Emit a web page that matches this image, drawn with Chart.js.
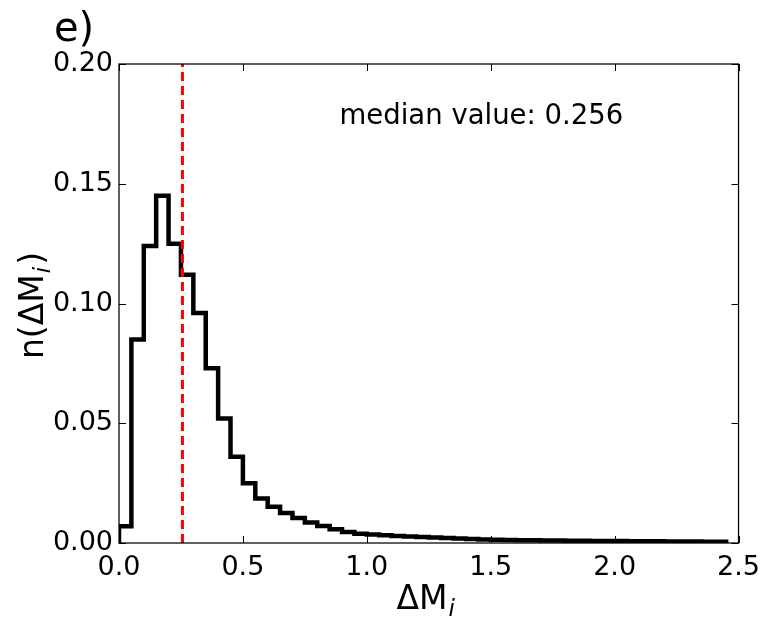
<!DOCTYPE html>
<html>
<head>
<meta charset="utf-8">
<script src="https://cdn.jsdelivr.net/npm/chart.js@4"></script>
<style>
  body { margin: 0; background: #fff; }
  #wrap { width: 769px; height: 632px; }
</style>
</head>
<body>
<div id="wrap"><canvas id="histChart"></canvas></div>
<script>
// bin left edges (width 0.05) and normalised counts
const binLefts = [0.00, 0.05, 0.10, 0.15, 0.20, 0.25, 0.30, 0.35, 0.40, 0.45,
                  0.50, 0.55, 0.60, 0.65, 0.70, 0.75, 0.80, 0.85, 0.90, 0.95,
                  1.00, 1.05, 1.10, 1.15, 1.20, 1.25, 1.30, 1.35, 1.40, 1.45,
                  1.50, 1.55, 1.60, 1.65, 1.70, 1.75, 1.80, 1.85, 1.90, 1.95,
                  2.00, 2.05, 2.10, 2.15, 2.20, 2.25, 2.30, 2.35, 2.40];
const binEnd = 2.45;
const counts = [0.007, 0.085, 0.124, 0.145, 0.125, 0.112, 0.096, 0.073, 0.052, 0.036,
                0.025, 0.0186, 0.0151, 0.0125, 0.0104, 0.0086, 0.0071, 0.0057, 0.0046, 0.0039,
                0.0035, 0.0032, 0.0029, 0.0027, 0.0025, 0.0023, 0.0021, 0.0019, 0.0017, 0.0015,
                0.0014, 0.0013, 0.0012, 0.0011, 0.0010, 0.0010, 0.0009, 0.0009, 0.0008, 0.0008,
                0.0008, 0.0007, 0.0007, 0.0007, 0.0006, 0.0006, 0.0006, 0.0005, 0.0005];
const medianValue = 0.256;
const xTicks = [0, 0.5, 1.0, 1.5, 2.0, 2.5];
const yTicks = [0, 0.05, 0.10, 0.15, 0.20];

const FONT = '"DejaVu Sans", sans-serif';

// build the step outline of the histogram
const stepPoints = [{ x: binLefts[0], y: 0 }];
binLefts.forEach((b, i) => stepPoints.push({ x: b, y: counts[i] }));
stepPoints.push({ x: binEnd, y: counts[counts.length - 1] });
stepPoints.push({ x: binEnd, y: 0 });

// draws "base" + italic subscript + "tail", centred on (0,0)
function drawSubText(ctx, base, sub, tail, size) {
  const bigFont = size + 'px ' + FONT;
  const subFont = 'italic ' + Math.round(size * 0.7) + 'px ' + FONT;
  ctx.font = bigFont;
  const w1 = ctx.measureText(base).width;
  const w3 = tail ? ctx.measureText(tail).width : 0;
  ctx.font = subFont;
  const w2 = ctx.measureText(sub).width + 3;
  let x = -(w1 + w2 + w3) / 2;
  ctx.textAlign = 'left';
  ctx.textBaseline = 'alphabetic';
  ctx.font = bigFont;
  ctx.fillText(base, x, 0);
  x += w1;
  ctx.font = subFont;
  ctx.fillText(sub, x + 1, size * 0.22);
  x += w2;
  if (tail) {
    ctx.font = bigFont;
    ctx.fillText(tail, x, 0);
  }
}

// frame, inward ticks on all sides, labels and annotation
const decorPlugin = {
  id: 'decor',
  afterDraw(chart) {
    const ctx = chart.ctx;
    const a = chart.chartArea;
    const xs = chart.scales.x, ys = chart.scales.y;
    ctx.save();
    ctx.strokeStyle = '#000';
    ctx.lineWidth = 1.25;
    ctx.strokeRect(a.left, a.top, a.right - a.left, a.bottom - a.top);
    ctx.lineWidth = 1;
    const tl = 7;
    ctx.beginPath();
    xTicks.forEach(v => {
      const px = Math.round(xs.getPixelForValue(v)) + 0.5;
      ctx.moveTo(px, a.bottom); ctx.lineTo(px, a.bottom - tl);
      ctx.moveTo(px, a.top); ctx.lineTo(px, a.top + tl);
    });
    yTicks.forEach(v => {
      const py = Math.round(ys.getPixelForValue(v)) + 0.5;
      ctx.moveTo(a.left, py); ctx.lineTo(a.left + tl, py);
      ctx.moveTo(a.right, py); ctx.lineTo(a.right - tl, py);
    });
    ctx.stroke();

    ctx.fillStyle = '#000';
    // panel letter
    ctx.font = '40px ' + FONT;
    ctx.textAlign = 'left';
    ctx.textBaseline = 'alphabetic';
    ctx.fillText('e)', 54, 41);
    // median annotation
    ctx.font = '27.5px ' + FONT;
    ctx.fillText('median value: ' + medianValue, xs.getPixelForValue(0.89), ys.getPixelForValue(0.175));

    // x axis title
    ctx.save();
    ctx.translate((a.left + a.right) / 2 - 2, 609);
    drawSubText(ctx, '\u0394M', 'i', '', 33);
    ctx.restore();
    // y axis title
    ctx.save();
    ctx.translate(43, (a.top + a.bottom) / 2 + 2);
    ctx.rotate(-Math.PI / 2);
    drawSubText(ctx, 'n(\u0394M', 'i', ')', 33);
    ctx.restore();
    ctx.restore();
  }
};

const ctx = document.getElementById('histChart').getContext('2d');
const histChart = new Chart(ctx, {
  type: 'scatter',
  data: {
    datasets: [{
      label: 'median',
      data: [{ x: medianValue, y: 0 }, { x: medianValue, y: 0.2 }],
      showLine: true,
      borderColor: '#ff0000',
      borderWidth: 3,
      borderDash: [9, 5],
      pointRadius: 0,
      order: 0
    }, {
      label: 'hist',
      data: stepPoints,
      showLine: true,
      stepped: 'before', // horizontal first, then vertical
      borderColor: '#000',
      borderWidth: 4.5,
      pointRadius: 0,
      order: 1
    }]
  },
  options: {
    responsive: true,
    maintainAspectRatio: false,
    animation: false,
    layout: { padding: { left: 0, top: 64, right: 30, bottom: 0 } },
    plugins: {
      legend: { display: false },
      tooltip: { enabled: false }
    },
    scales: {
      x: {
        type: 'linear',
        min: 0, max: 2.5,
        afterFit: s => { s.height = 89; },
        afterBuildTicks: s => { s.ticks = xTicks.map(v => ({ value: v })); },
        grid: { drawOnChartArea: false, drawTicks: false },
        border: { display: false },
        ticks: {
          padding: 9,
          color: '#000',
          font: { family: FONT, size: 27 },
          callback: v => v.toFixed(1)
        }
      },
      y: {
        type: 'linear',
        min: 0, max: 0.2,
        afterFit: s => { s.width = 119; },
        afterBuildTicks: s => { s.ticks = yTicks.map(v => ({ value: v })); },
        grid: { drawOnChartArea: false, drawTicks: false },
        border: { display: false },
        ticks: {
          padding: 6,
          color: '#000',
          font: { family: FONT, size: 27 },
          callback: v => v.toFixed(2)
        }
      }
    }
  },
  plugins: [decorPlugin]
});
</script>
</body>
</html>
